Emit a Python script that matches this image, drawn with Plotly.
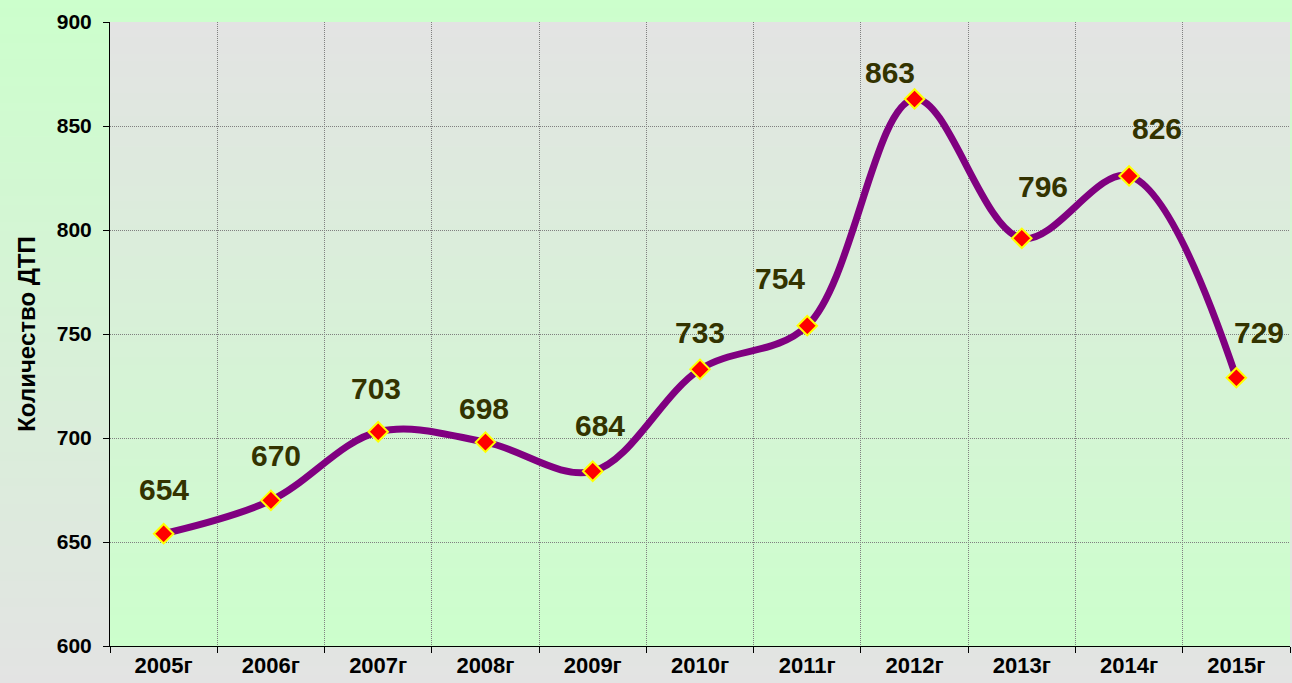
import plotly.graph_objects as go

# Data
years = ['2005г', '2006г', '2007г', '2008г', '2009г', '2010г',
         '2011г', '2012г', '2013г', '2014г', '2015г']
accidents = [654, 670, 703, 698, 684, 733, 754, 863, 796, 826, 729]
y_ticks = [600, 650, 700, 750, 800, 850, 900]

# label offsets (pixels) relative to each marker
label_dx = [0, 5, -2, -1, 7, 0, -27, -25, 21, 28, 23]
label_dy = [44, 45, 43, 34, 46, 37, 47, 26, 52, 47, 45]

W, H = 1292, 683
M = dict(l=110, r=2, t=22, b=37)

GREEN = (204, 255, 204)
GRAY = (227, 227, 227)


def mix(c1, c2, t):
    return 'rgb(%d,%d,%d)' % tuple(round(a + (b - a) * t) for a, b in zip(c1, c2))


fig = go.Figure()

fig.add_trace(go.Scatter(
    x=years, y=accidents,
    mode='lines+markers',
    line=dict(color='#800080', width=7, shape='spline', smoothing=1),
    marker=dict(symbol='diamond', size=15, color='#ff0000',
                line=dict(color='#ffff00', width=2)),
    showlegend=False,
    hoverinfo='x+y'
))

# gradient backgrounds
shapes = []
n = 80
ph = H - M['t'] - M['b']
pw = W - M['l'] - M['r']
y_lo = -M['b'] / ph
y_hi = 1 + M['t'] / ph
x_lo = -M['l'] / pw
x_hi = 1 + M['r'] / pw
for i in range(n):
    t0 = i / n
    t1 = (i + 1) / n
    # outer (paper): green at top, gray at bottom
    y0 = y_hi - (y_hi - y_lo) * t0
    y1 = y_hi - (y_hi - y_lo) * t1
    shapes.append(dict(type='rect', xref='paper', yref='paper', layer='below',
                       x0=x_lo, x1=x_hi, y0=y1 - 0.002, y1=y0,
                       fillcolor=mix(GREEN, GRAY, (t0 + t1) / 2),
                       line=dict(width=0)))
for i in range(n):
    t0 = i / n
    t1 = (i + 1) / n
    # plot area: gray at top, green at bottom
    shapes.append(dict(type='rect', xref='x domain', yref='y domain', layer='below',
                       x0=0, x1=1, y0=1 - t1 - 0.002, y1=1 - t0,
                       fillcolor=mix(GRAY, GREEN, (t0 + t1) / 2),
                       line=dict(width=0)))

annotations = []
for i, (yr, v) in enumerate(zip(years, accidents)):
    annotations.append(dict(
        x=yr, y=v, text=str(v), showarrow=False,
        xshift=label_dx[i], yshift=label_dy[i],
        font=dict(family='Arial, Liberation Sans', size=30, color='#333300', weight='bold')
    ))

fig.update_layout(
    width=W, height=H,
    margin=M,
    paper_bgcolor='rgb(204,255,204)',
    plot_bgcolor='rgba(0,0,0,0)',
    shapes=shapes,
    annotations=annotations,
    font=dict(family='Arial, Liberation Sans', color='black'),
    xaxis=dict(
        type='category', range=[-0.5, 10.5],
        tickson='boundaries', ticks='outside', ticklen=6, tickcolor='black',
        showline=True, linecolor='black', linewidth=1,
        showgrid=True, gridcolor='#808080', griddash='1px,1px', gridwidth=1,
        tickfont=dict(size=22, weight='bold'),
        zeroline=False, fixedrange=True
    ),
    yaxis=dict(
        range=[600, 900], tickvals=y_ticks,
        ticks='outside', ticklen=6, tickcolor='black',
        ticklabelstandoff=7,
        showline=True, linecolor='black', linewidth=1,
        showgrid=True, gridcolor='#808080', griddash='1px,1px', gridwidth=1,
        tickfont=dict(size=21, weight='bold'),
        title=dict(text='Количество ДТП', font=dict(size=24, weight='bold'), standoff=14),
        zeroline=False, fixedrange=True
    )
)

fig.write_html("out.html", config={'displayModeBar': False},
               post_script="document.body.style.margin='0';document.body.style.overflow='hidden';")
